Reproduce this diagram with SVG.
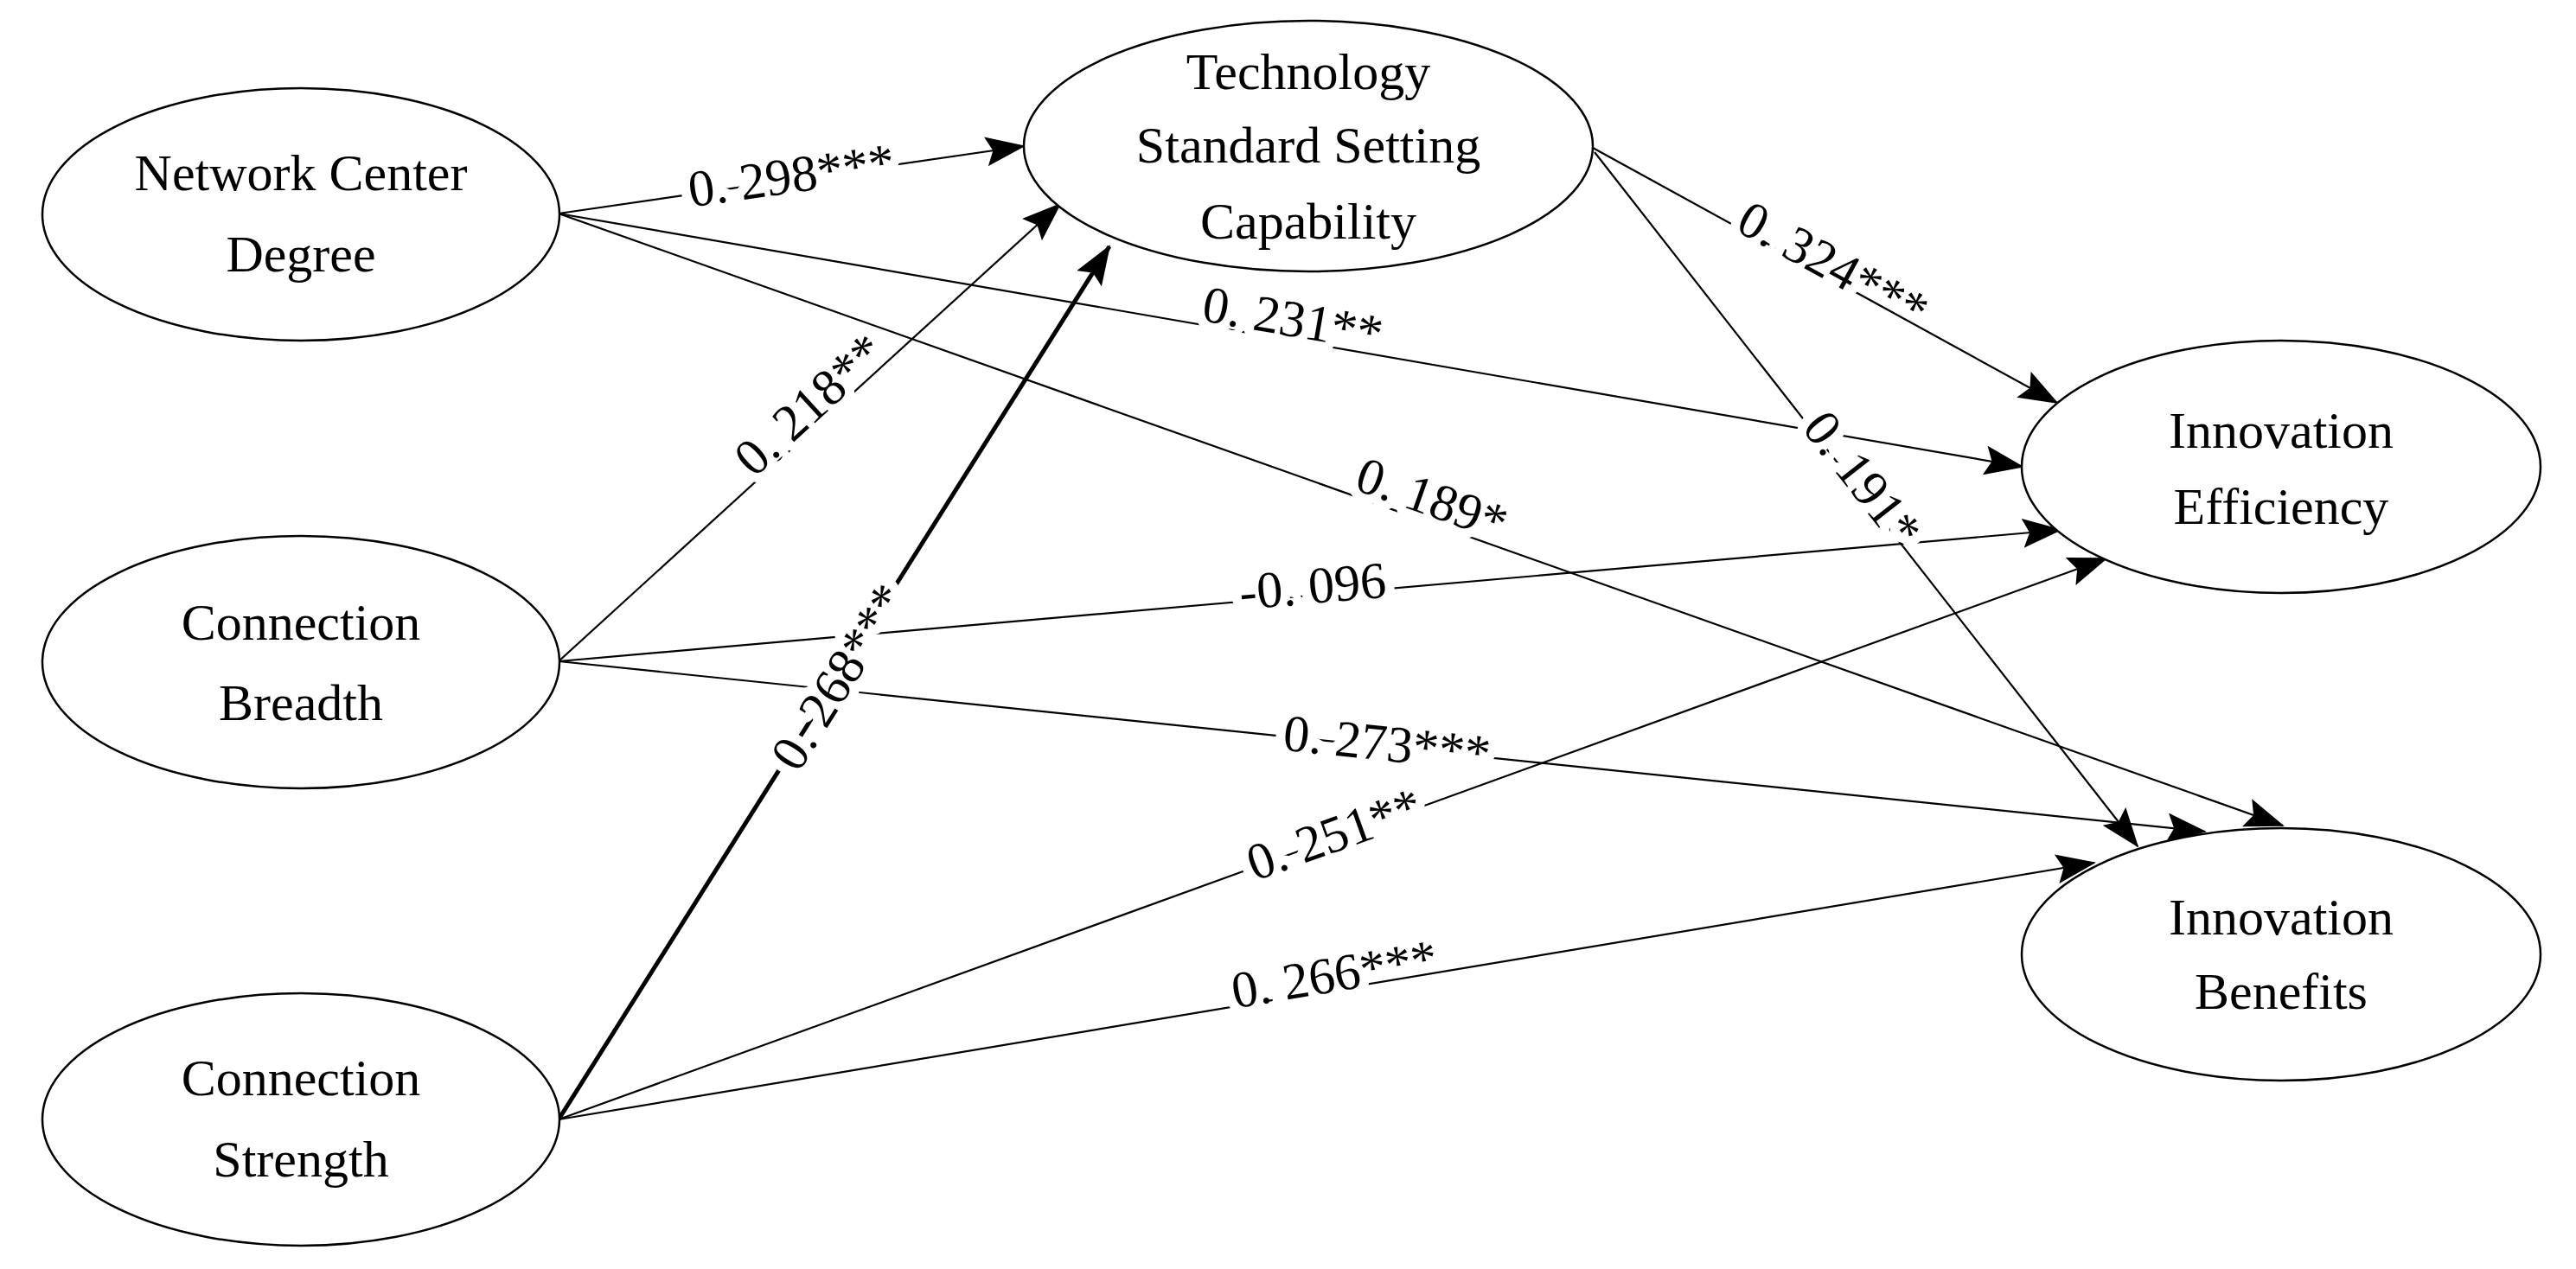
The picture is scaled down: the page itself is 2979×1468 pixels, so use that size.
<svg xmlns="http://www.w3.org/2000/svg" width="2979" height="1468" viewBox="0 0 2979 1468">
<defs>
<marker id="ah" markerUnits="userSpaceOnUse" markerWidth="46" markerHeight="34" refX="44" refY="17" orient="auto"><path d="M0,0 L46,17 L0,34 L8,17 Z" fill="#000"/></marker>
<style>
.n ellipse{fill:#fff;stroke:#000;stroke-width:2.5}
.n text{font-family:"Liberation Serif",serif;font-size:60px;text-anchor:middle;fill:#000}
.c line{stroke:#000;stroke-width:2.2;marker-end:url(#ah)}
.c line.t{stroke-width:5}
.c text{font-family:"Liberation Serif",serif;font-size:60px;text-anchor:middle;dominant-baseline:central;fill:#000;stroke:#fff;stroke-width:22px;paint-order:stroke;stroke-linejoin:round}
</style>
</defs>
<rect width="2979" height="1468" fill="#fff"/>
<g class="c" id="connectors">
<line x1="646" y1="247" x2="1184" y2="169"/>
<line x1="646" y1="247" x2="2339" y2="540"/>
<line x1="646" y1="247" x2="2640" y2="955"/>
<line x1="646" y1="765" x2="1226" y2="236"/>
<line x1="646" y1="765" x2="2383" y2="613"/>
<line x1="646" y1="765" x2="2550" y2="962"/>
<line class="t" x1="646" y1="1295" x2="1283" y2="285"/>
<line x1="646" y1="1295" x2="2436" y2="646"/>
<line x1="646" y1="1295" x2="2422" y2="998"/>
<line x1="1842" y1="171" x2="2379" y2="466"/>
<line x1="1844" y1="176" x2="2472" y2="979"/>
<text transform="translate(915,203) rotate(-8)">0. 298***</text>
<text transform="translate(1495,369) rotate(9.8)">0. 231**</text>
<text transform="translate(1656,577) rotate(19.5)">0. 189*</text>
<text transform="translate(936,468) rotate(-42.4)">0. 218**</text>
<text transform="translate(1518,678) rotate(-5)">-0. 096</text>
<text transform="translate(1604,860) rotate(5.9)">0. 273***</text>
<text transform="translate(970,783) rotate(-57.8)">0. 268***</text>
<text transform="translate(1543,965) rotate(-19.9)">0. 251**</text>
<text transform="translate(1543,1127) rotate(-9.5)">0. 266***</text>
<text transform="translate(2120,306) rotate(28.8)">0. 324***</text>
<text transform="translate(2154,554) rotate(52)">0. 191*</text>
</g>
<g class="n" id="ncd"><ellipse cx="348" cy="248" rx="299" ry="146"/><text x="348" y="220">Network Center</text><text x="348" y="314">Degree</text></g>
<g class="n" id="cb"><ellipse cx="348" cy="766" rx="299" ry="146"/><text x="348" y="740">Connection</text><text x="348" y="833">Breadth</text></g>
<g class="n" id="cs"><ellipse cx="348" cy="1295" rx="299" ry="146"/><text x="348" y="1267">Connection</text><text x="348" y="1361">Strength</text></g>
<g class="n" id="tech"><ellipse cx="1513" cy="169" rx="329" ry="145"/><text x="1513" y="103">Technology</text><text x="1513" y="188">Standard Setting</text><text x="1513" y="276">Capability</text></g>
<g class="n" id="ie"><ellipse cx="2638" cy="540" rx="300" ry="146"/><text x="2638" y="518">Innovation</text><text x="2638" y="606">Efficiency</text></g>
<g class="n" id="ib"><ellipse cx="2638" cy="1104" rx="300" ry="146"/><text x="2638" y="1081">Innovation</text><text x="2638" y="1167">Benefits</text></g>
</svg>
